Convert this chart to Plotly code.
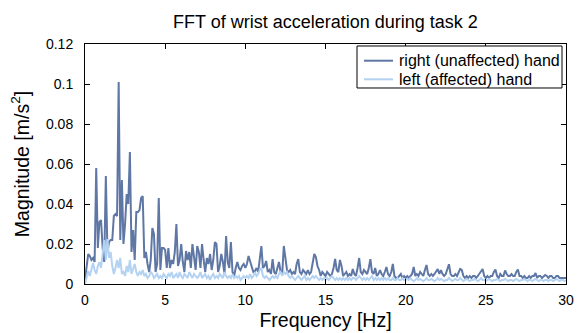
import numpy as np
import plotly.graph_objects as go

freq_step = 0.1
n_bins = 301

right_hand = [
    0.002, 0.010, 0.015, 0.014, 0.012, 0.013, 0.011, 0.058, 0.018, 0.031,
    0.032, 0.018, 0.011, 0.054, 0.016, 0.021, 0.022, 0.022, 0.034, 0.035,
    0.034, 0.101, 0.022, 0.052, 0.020, 0.030, 0.045, 0.040, 0.066, 0.016,
    0.027, 0.012, 0.036, 0.036, 0.037, 0.043, 0.044, 0.013, 0.016, 0.010,
    0.006, 0.012, 0.028, 0.025, 0.006, 0.010, 0.043, 0.007, 0.018, 0.018,
    0.017, 0.008, 0.018, 0.008, 0.012, 0.010, 0.016, 0.030, 0.009, 0.012,
    0.020, 0.011, 0.006, 0.0165, 0.012, 0.016, 0.008, 0.020, 0.012, 0.007,
    0.019, 0.016, 0.008, 0.020, 0.012, 0.006, 0.013, 0.010, 0.015, 0.007,
    0.012, 0.021, 0.020, 0.006, 0.009, 0.015, 0.011, 0.005, 0.024, 0.011,
    0.008, 0.021, 0.006, 0.004, 0.008, 0.011, 0.008, 0.007, 0.009, 0.010,
    0.008, 0.010, 0.014, 0.011, 0.009, 0.006, 0.0065, 0.008, 0.006, 0.012,
    0.019, 0.008, 0.009, 0.0115, 0.006, 0.007, 0.005, 0.0125, 0.006, 0.005,
    0.008, 0.011, 0.006, 0.005, 0.019, 0.013, 0.007, 0.006, 0.007, 0.005,
    0.006, 0.005, 0.010, 0.0125, 0.006, 0.005, 0.007, 0.006, 0.005, 0.007,
    0.005, 0.006, 0.010, 0.015, 0.0135, 0.009, 0.007, 0.004, 0.006, 0.005,
    0.004, 0.006, 0.005, 0.004, 0.005, 0.008, 0.0125, 0.007, 0.006, 0.012,
    0.009, 0.004, 0.005, 0.006, 0.004, 0.005, 0.004, 0.0075, 0.005, 0.004,
    0.008, 0.013, 0.006, 0.005, 0.007, 0.006, 0.005, 0.008, 0.0124, 0.006,
    0.005, 0.008, 0.004, 0.005, 0.007, 0.005, 0.004, 0.006, 0.0085, 0.005,
    0.004, 0.006, 0.010, 0.004, 0.003, 0.003, 0.004, 0.005, 0.003, 0.004,
    0.003, 0.004, 0.003, 0.004, 0.005, 0.0085, 0.004, 0.005, 0.004, 0.006,
    0.005, 0.004, 0.007, 0.0095, 0.005, 0.004, 0.005, 0.004, 0.005, 0.006,
    0.0075, 0.005, 0.007, 0.005, 0.004, 0.005, 0.007, 0.0099, 0.005, 0.004,
    0.004, 0.005, 0.004, 0.006, 0.0075, 0.007, 0.004, 0.003, 0.004, 0.003,
    0.004, 0.003, 0.004, 0.004, 0.003, 0.004, 0.005, 0.006, 0.0075, 0.004,
    0.003, 0.004, 0.003, 0.004, 0.004, 0.006, 0.0072, 0.004, 0.003, 0.005,
    0.004, 0.004, 0.0068, 0.005, 0.004, 0.004, 0.005, 0.004, 0.004, 0.006,
    0.0072, 0.004, 0.004, 0.003, 0.004, 0.003, 0.003, 0.004, 0.003, 0.004,
    0.004, 0.0055, 0.003, 0.004, 0.004, 0.003, 0.004, 0.0045, 0.004, 0.003,
    0.004, 0.004, 0.003, 0.003, 0.004, 0.004, 0.003, 0.003, 0.003, 0.003,
    0.003,
]

left_hand = [
    0.000, 0.003, 0.0065, 0.004, 0.008, 0.0105, 0.007, 0.005, 0.009, 0.011,
    0.008, 0.015, 0.022, 0.012, 0.0225, 0.013, 0.016, 0.009, 0.005, 0.008,
    0.012, 0.008, 0.013, 0.005, 0.006, 0.004, 0.009, 0.006, 0.012, 0.005,
    0.007, 0.010, 0.006, 0.004, 0.006, 0.005, 0.007, 0.004, 0.005, 0.003,
    0.004, 0.006, 0.005, 0.003, 0.004, 0.005, 0.003, 0.004, 0.003, 0.005,
    0.004, 0.003, 0.005, 0.004, 0.006, 0.003, 0.004, 0.005, 0.003, 0.006,
    0.004, 0.003, 0.005, 0.004, 0.003, 0.006, 0.004, 0.003, 0.005, 0.004,
    0.003, 0.004, 0.006, 0.003, 0.004, 0.005, 0.003, 0.004, 0.002, 0.004,
    0.005, 0.003, 0.004, 0.003, 0.005, 0.004, 0.003, 0.006, 0.004, 0.003,
    0.004, 0.003, 0.005, 0.003, 0.004, 0.003, 0.004, 0.002, 0.003, 0.004,
    0.003, 0.004, 0.003, 0.005, 0.003, 0.004, 0.006, 0.004, 0.005, 0.007,
    0.008, 0.004, 0.003, 0.004, 0.003, 0.002, 0.003, 0.004, 0.003, 0.004,
    0.003, 0.005, 0.006, 0.004, 0.006, 0.005, 0.006, 0.004, 0.003, 0.004,
    0.003, 0.002, 0.003, 0.004, 0.003, 0.002, 0.003, 0.004, 0.002, 0.003,
    0.002, 0.003, 0.004, 0.003, 0.004, 0.003, 0.002, 0.003, 0.002, 0.003,
    0.002, 0.003, 0.002, 0.003, 0.004, 0.003, 0.002, 0.003, 0.002, 0.003,
    0.002, 0.003, 0.002, 0.003, 0.002, 0.003, 0.002, 0.003, 0.003, 0.002,
    0.003, 0.004, 0.003, 0.002, 0.003, 0.002, 0.003, 0.002, 0.003, 0.004,
    0.002, 0.003, 0.002, 0.003, 0.002, 0.003, 0.002, 0.003, 0.002, 0.003,
    0.002, 0.002, 0.003, 0.002, 0.002, 0.003, 0.002, 0.002, 0.003, 0.002,
    0.002, 0.0025, 0.002, 0.003, 0.002, 0.0015, 0.002, 0.003, 0.002, 0.0025,
    0.002, 0.0015, 0.002, 0.003, 0.002, 0.002, 0.0025, 0.002, 0.0015, 0.002,
    0.003, 0.002, 0.0025, 0.002, 0.0015, 0.002, 0.002, 0.003, 0.002, 0.0015,
    0.002, 0.0025, 0.002, 0.002, 0.003, 0.002, 0.0015, 0.002, 0.0025, 0.002,
    0.0015, 0.002, 0.002, 0.0025, 0.002, 0.0015, 0.002, 0.003, 0.002, 0.002,
    0.0015, 0.002, 0.0025, 0.002, 0.0015, 0.002, 0.002, 0.0025, 0.002, 0.0015,
    0.002, 0.002, 0.0025, 0.002, 0.0015, 0.002, 0.002, 0.0015, 0.002, 0.0025,
    0.002, 0.0015, 0.002, 0.002, 0.0025, 0.002, 0.0015, 0.002, 0.002, 0.0015,
    0.002, 0.0025, 0.002, 0.0015, 0.002, 0.002, 0.0015, 0.002, 0.002, 0.0015,
    0.002, 0.002, 0.0015, 0.002, 0.0025, 0.002, 0.0015, 0.002, 0.002, 0.0015,
    0.002,
]

series_names = ["right (unaffected) hand", "left (affected) hand"]

freqs = np.arange(n_bins) * freq_step

x_ticks = [0, 5, 10, 15, 20, 25, 30]
y_ticks = [0, 0.02, 0.04, 0.06, 0.08, 0.1, 0.12]
y_tick_labels = ["0", "0.02", "0.04", "0.06", "0.08", "0.1", "0.12"]

dark = "rgb(95,119,165)"
light = "rgb(180,210,242)"
colors = [dark, light]
font_family = "Liberation Sans"

fig = go.Figure()
for name, vals, col in zip(series_names, [right_hand, left_hand], colors):
    fig.add_trace(go.Scatter(x=freqs[:len(vals)], y=vals, mode="lines", name=name,
                             line=dict(color=col, width=2), showlegend=False))

axis_common = dict(showline=True, linecolor="black", linewidth=1, mirror="ticks",
                   ticks="inside", ticklen=5, tickcolor="black", showgrid=False,
                   zeroline=False, automargin=False,
                   tickfont=dict(size=14, color="black", family=font_family))

# Legend box (drawn in paper coordinates, MATLAB-style legend)
box_x0, box_x1, box_y0, box_y1 = 0.5655, 0.9917, 0.8167, 0.9917
line_x0, line_x1, text_x = 0.580, 0.6403, 0.6486
row_y = [0.9304, 0.8529]
shapes = [dict(type="rect", xref="paper", yref="paper", x0=box_x0, x1=box_x1, y0=box_y0,
               y1=box_y1, line=dict(color="black", width=1), fillcolor="white", layer="above")]
annotations = []
for name, col, ry in zip(series_names, colors, row_y):
    shapes.append(dict(type="line", xref="paper", yref="paper", x0=line_x0, x1=line_x1,
                       y0=ry, y1=ry, line=dict(color=col, width=2), layer="above"))
    annotations.append(dict(text=name, xref="paper", yref="paper", x=text_x, y=ry,
                            xanchor="left", yanchor="middle", showarrow=False,
                            font=dict(size=16, color="black", family=font_family)))

fig.update_layout(
    width=577, height=333,
    margin=dict(l=85, r=11, t=44, b=49),
    paper_bgcolor="white", plot_bgcolor="white",
    font=dict(family=font_family, color="black", size=14),
    title=dict(text="FFT of wrist acceleration during task 2", x=0.564, xanchor="center",
               y=0.934, yanchor="middle", font=dict(size=18, color="black")),
    xaxis=dict(range=[0, 30], tickvals=x_ticks, ticklabelstandoff=3,
               title=dict(text="Frequency [Hz]", standoff=6, font=dict(size=19.5)),
               **axis_common),
    yaxis=dict(range=[0, 0.12], tickvals=y_ticks, ticktext=y_tick_labels, ticklabelstandoff=8,
               title=dict(text="Magnitude [m/s<sup>2</sup>]", standoff=11, font=dict(size=19.5)),
               **axis_common),
    shapes=shapes,
    annotations=annotations,
    showlegend=False,
)

fig.write_html("out.html")
